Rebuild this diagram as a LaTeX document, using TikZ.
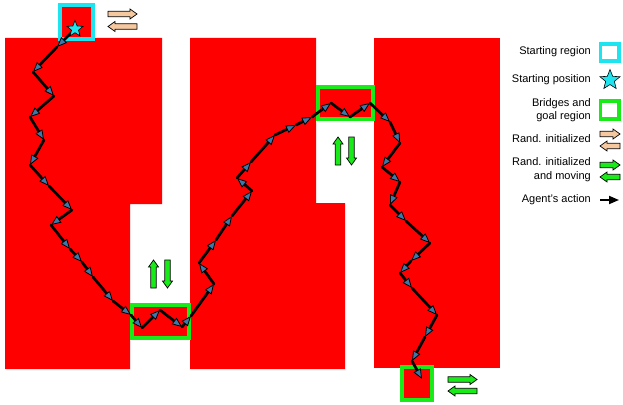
\documentclass[tikz,border=0pt]{standalone}
\usepackage{fontspec}
\setmainfont{Liberation Sans}
\usetikzlibrary{arrows.meta,shapes.geometric}
\definecolor{redfill}{RGB}{255,0,0}
\definecolor{cyanc}{RGB}{30,228,240}
\definecolor{greenc}{RGB}{25,235,25}
\definecolor{tanc}{RGB}{245,200,160}
\definecolor{tipblue}{RGB}{60,120,170}
\begin{document}
\begin{tikzpicture}[x=1pt,y=-1pt,
  block/.style={fill=redfill,draw=none},
  startbox/.style={draw=cyanc,line width=3.6pt,fill=redfill},
  bridgebox/.style={draw=greenc,line width=3.8pt,fill=redfill},
  agentstep/.style={line width=2.7pt,line cap=round,
    -{Triangle[length=10pt,width=8pt,fill=tipblue,line width=0.8pt]}},
  legtext/.style={anchor=east,align=right,font=\fontsize{11}{13.5}\selectfont,inner sep=0pt},
  starmark/.style={star,star points=5,star point ratio=2.3,draw=black,line width=0.6pt,fill=cyanc,inner sep=0pt},
  pics/blkarrow/.style 2 args={code={
    \draw[fill=#2,line width=0.7pt,line join=miter]
      (-#1,-2.7) -- ({#1-7},-2.7) -- ({#1-7},-5) -- (#1,0) -- ({#1-7},5)
      -- ({#1-7},2.7) -- (-#1,2.7) -- cycle;}}
]
\useasboundingbox (0,0) rectangle (623,404);

% red regions
\fill[block] (5,38) -- (162,38) -- (162,204) -- (130,204) -- (130,369) -- (5,369) -- cycle;
\fill[block] (190,38) -- (316,38) -- (316,203) -- (345,203) -- (345,369) -- (190,369) -- cycle;
\fill[block] (374,38) rectangle (500,368);

% start region, bridges, goal
\draw[startbox] (60,5) rectangle (93,39);
\draw[bridgebox] (132,305) rectangle (189,338);
\draw[bridgebox] (318,87) rectangle (373,119);
\draw[bridgebox] (402,367) rectangle (432,400);

% random-initialized arrows
\pic at (122.5,14) {blkarrow={14.5}{tanc}};
\pic[rotate=180] at (122.5,26.5) {blkarrow={14.5}{tanc}};
\pic[rotate=90] at (153.5,274) {blkarrow={14}{greenc}};
\pic[rotate=-90] at (167.5,274) {blkarrow={14}{greenc}};
\pic[rotate=90] at (338,151) {blkarrow={14}{greenc}};
\pic[rotate=-90] at (351.5,151) {blkarrow={14}{greenc}};
\pic at (462.5,379.5) {blkarrow={14.5}{greenc}};
\pic[rotate=180] at (462.5,391) {blkarrow={14.5}{greenc}};

% agent trajectory
\foreach \n/\p in {
  0/{75,29},1/{57,47},2/{33,72},3/{54,96},4/{30,117},5/{44,140},6/{30,165},
  7/{49,186},8/{72,210},9/{51,225},10/{70,249},11/{82,262},12/{93,277},
  13/{113,301},14/{131,315},15/{142,328},16/{160,310},17/{182,327},
  18/{191,316},19/{214,284},20/{199,263},21/{216,240},22/{232,216},
  23/{252,191},24/{237,178},25/{251,162},26/{275,135},27/{296,125},
  28/{312,117},29/{331,103},30/{350,117},31/{370,103},32/{390,122},
  33/{400,143},34/{382,167},35/{400,182},36/{390,205},37/{406,221},
  38/{430,243},39/{411,261},40/{400,273},41/{412,288},42/{437,315},
  43/{425,337},44/{412,361},45/{422,379}}
  {\coordinate (p\n) at (\p);}
\foreach \i [evaluate=\i as \j using int(\i+1)] in {0,...,44}
  {\draw[agentstep] (p\i) -- (p\j);}

\node[starmark,minimum size=17pt] (startpos) at (75,29) {};

% legend
\node[legtext] (lg1) at (591,52) {Starting region};
\node[legtext] (lg2) at (591,80) {Starting position};
\node[legtext] (lg3) at (591,110) {Bridges and\\goal region};
\node[legtext] (lg4) at (591,139) {Rand. initialized};
\node[legtext] (lg5) at (591,169.5) {Rand. initialized\\and moving};
\node[legtext] (lg6) at (591,200) {Agent's action};

\draw[draw=cyanc,line width=3.4pt] (600.5,44) rectangle (619,61);
\node[starmark,minimum size=21pt] (legstar) at (610,80) {};
\draw[draw=greenc,line width=3.4pt] (600.5,101) rectangle (619,119);
\pic at (610,134) {blkarrow={10}{tanc}};
\pic[rotate=180] at (610,146) {blkarrow={10}{tanc}};
\pic at (610,165) {blkarrow={10}{greenc}};
\pic[rotate=180] at (610,177) {blkarrow={10}{greenc}};
\coordinate (la1) at (600,200);
\coordinate (la2) at (619,200);
\draw[line width=1.8pt,-{Triangle[length=10pt,width=8pt]}] (la1) -- (la2);
\end{tikzpicture}
\end{document}
